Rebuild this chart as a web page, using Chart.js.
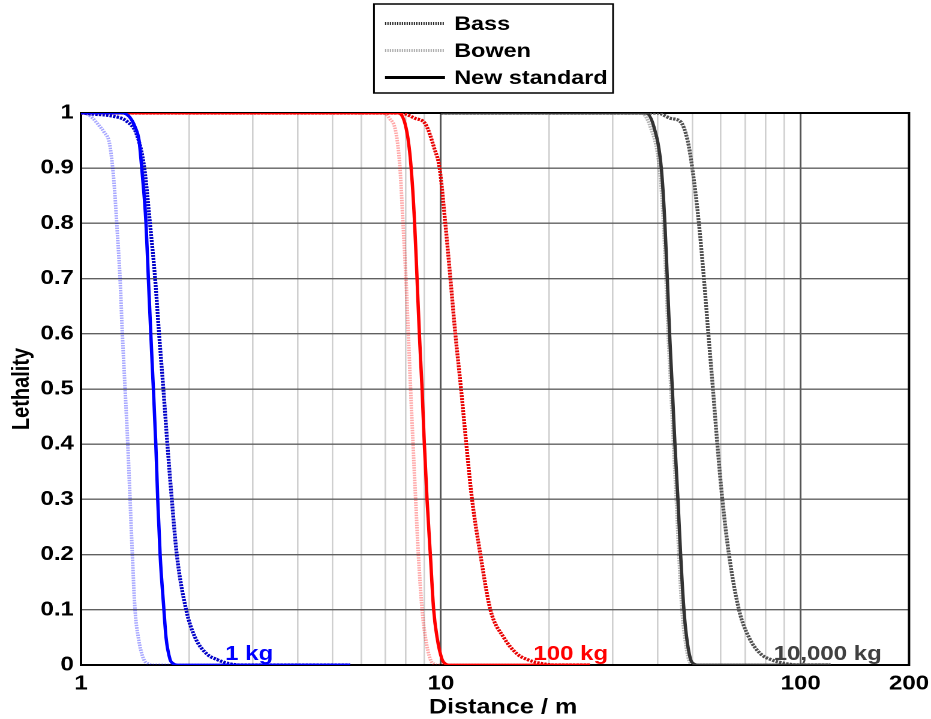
<!DOCTYPE html>
<html>
<head>
<meta charset="utf-8">
<script src="https://cdn.jsdelivr.net/npm/chart.js@4/dist/chart.umd.min.js"></script>
<style>
  html, body { margin: 0; padding: 0; background: #fff; overflow: hidden; }
  #wrap { position: absolute; left: 0; top: 0; width: 776px; height: 719px;
          transform: scaleX(1.19974); transform-origin: 0 0; }
</style>
</head>
<body>
<div id="wrap"><canvas id="c"></canvas></div>
<script>
// Lethality versus distance (log scale) for three charge masses and three criteria.
// Each curve is a list of [distance in m, lethality] points.

// 1 kg
const bass1kg = [[1,1],[1.08,0.998],[1.23,0.994],[1.34,0.985],[1.43,0.96],[1.50,0.90],[1.555,0.80],[1.607,0.70],
  [1.648,0.60],[1.694,0.50],[1.738,0.40],[1.788,0.30],[1.846,0.20],[1.96,0.10],[2.075,0.05],[2.237,0.02],
  [2.385,0.01],[2.6,0.002],[2.8,0],[5.6,0]];
const bowen1kg = [[1,1],[1.04,0.998],[1.08,0.99],[1.12,0.978],[1.16,0.965],[1.20,0.945],[1.225,0.90],[1.243,0.85],
  [1.257,0.80],[1.284,0.70],[1.303,0.60],[1.326,0.50],[1.349,0.40],[1.369,0.30],[1.389,0.20],[1.413,0.10],
  [1.443,0.05],[1.49,0.012],[1.54,0.002],[1.6,0],[5.6,0]];
const newStd1kg = [[1,1],[1.30,1],[1.354,0.995],[1.39,0.985],[1.413,0.975],[1.45,0.95],[1.475,0.90],[1.516,0.80],
  [1.539,0.70],[1.563,0.60],[1.589,0.50],[1.614,0.40],[1.634,0.30],[1.659,0.20],[1.70,0.10],[1.723,0.05],
  [1.768,0.01],[1.80,0.003],[1.85,0],[5.6,0]];

// 100 kg
const bass100kg = [[1,1],[7.7,1],[8.5,0.99],[9.06,0.98],[9.6,0.935],[9.92,0.90],[10.29,0.80],[10.63,0.70],
  [10.97,0.60],[11.38,0.50],[11.77,0.40],[12.21,0.30],[12.88,0.20],[13.73,0.10],[14.95,0.05],[16.29,0.02],
  [17.37,0.01],[19.3,0.002],[21,0],[26,0]];
const bowen100kg = [[1,1],[6.9,1],[7.2,0.99],[7.5,0.965],[7.70,0.90],[7.85,0.80],[8.0,0.70],[8.12,0.60],
  [8.24,0.50],[8.37,0.40],[8.51,0.30],[8.66,0.20],[8.87,0.10],[9.06,0.05],[9.35,0.01],[9.65,0.001],[9.8,0],[26,0]];
const newStd100kg = [[1,1],[7.6,1],[8.05,0.965],[8.27,0.90],[8.455,0.80],[8.587,0.70],[8.715,0.60],[8.867,0.50],
  [8.998,0.40],[9.154,0.30],[9.349,0.20],[9.55,0.10],[9.76,0.05],[10.08,0.01],[10.3,0.002],[10.5,0],[26,0]];

// 10,000 kg
const bass10000kg = [[10,1],[39.94,1],[43.6,0.99],[46.37,0.984],[48.5,0.95],[49.97,0.90],[52.13,0.80],[53.83,0.70],
  [55.38,0.60],[57.03,0.50],[58.66,0.40],[60.57,0.30],[63.19,0.20],[67.36,0.10],[71.8,0.05],[77.4,0.02],
  [82.52,0.01],[91.85,0.002],[100,0],[121,0]];
const bowen10000kg = [[10,1],[35.9,1],[38.2,0.975],[40.5,0.90],[41.55,0.80],[42.23,0.70],[42.82,0.60],[43.57,0.50],
  [44.30,0.40],[45.11,0.30],[45.86,0.20],[46.77,0.10],[47.64,0.05],[48.81,0.01],[50,0.001],[51,0],[121,0]];
const newStd10000kg = [[10,1],[37.06,1],[39.08,0.975],[40.98,0.90],[41.93,0.80],[42.58,0.70],[43.21,0.60],[43.97,0.50],
  [44.71,0.40],[45.58,0.30],[46.37,0.20],[47.36,0.10],[48.19,0.05],[49.43,0.01],[50.5,0.002],[51.6,0],[121,0]];

// Axis ticks
const xGridValues = [1,2,3,4,5,6,7,8,9,10,20,30,40,50,60,70,80,90,100,200];
const xTickLabels = {1:'1', 10:'10', 100:'100', 200:'200'};
const yTickLabels = ['0','0.1','0.2','0.3','0.4','0.5','0.6','0.7','0.8','0.9','1'];
const xTitle = 'Distance / m';

// Key entries and mass labels
const keyNames = ['Bass', 'Bowen', 'New standard'];
const massNames = ['1 kg', '100 kg', '10,000 kg'];
const massAnchors = [[2.515, 0.009], [18.08, 0.009], [84.1, 0.009]];

const FONT = '"Liberation Sans", Arial, sans-serif';
const toXY = arr => arr.map(p => ({x: p[0], y: p[1]}));

const styleFor = {
  bass:   {dash: [2, 1], width: 3.2, order: 1},
  bowen:  {dash: [1.5, 1], width: 3, order: 2},
  newStd: {dash: [],     width: 2.8, order: 0}
};
function series(label, data, kind, color) {
  const s = styleFor[kind];
  return {
    label, data: toXY(data), borderColor: color, borderWidth: s.width, borderDash: s.dash,
    pointRadius: 0, fill: false, cubicInterpolationMode: 'monotone', order: s.order
  };
}

const datasets = [
  series('New standard 1 kg', newStd1kg, 'newStd', '#0000ff'),
  series('Bass 1 kg', bass1kg, 'bass', '#0000c8'),
  series('Bowen 1 kg', bowen1kg, 'bowen', 'rgba(0,0,255,0.35)'),
  series('New standard 100 kg', newStd100kg, 'newStd', '#ff0000'),
  series('Bass 100 kg', bass100kg, 'bass', '#e80000'),
  series('Bowen 100 kg', bowen100kg, 'bowen', 'rgba(255,0,0,0.35)'),
  series('New standard 10,000 kg', newStd10000kg, 'newStd', '#333333'),
  series('Bass 10,000 kg', bass10000kg, 'bass', '#505050'),
  series('Bowen 10,000 kg', bowen10000kg, 'bowen', 'rgba(0,0,0,0.3)')
];

// Black frame around the plotting area
const framePlugin = {
  id: 'frame',
  beforeDatasetsDraw(chart) {
    const {ctx, chartArea: a} = chart;
    ctx.save();
    ctx.strokeStyle = '#000';
    ctx.lineWidth = 2;
    ctx.strokeRect(a.left, a.top, a.right - a.left, a.bottom - a.top);
    ctx.restore();
  }
};

// Mass labels next to each family of curves, and the distance axis title
const massColors = ['#0000ff', '#ff0000', '#404040'];
const massPlugin = {
  id: 'massLabels',
  afterDatasetsDraw(chart) {
    const {ctx, scales: {x, y}} = chart;
    ctx.save();
    ctx.font = 'bold 20px ' + FONT;
    ctx.textAlign = 'left';
    ctx.textBaseline = 'alphabetic';
    massNames.forEach((t, i) => {
      ctx.fillStyle = massColors[i];
      ctx.fillText(t, x.getPixelForValue(massAnchors[i][0]), y.getPixelForValue(massAnchors[i][1]));
    });
    ctx.font = 'bold 21px ' + FONT;
    ctx.fillStyle = '#000';
    ctx.textAlign = 'center';
    ctx.textBaseline = 'middle';
    ctx.fillText(xTitle, 419.3, 707.5);
    ctx.restore();
  }
};

// Key box above the plot
const keyStyles = [
  {color: '#222', dash: [1, 1], width: 3},
  {color: '#aaa', dash: [1, 1], width: 3},
  {color: '#000', dash: [], width: 3}
];
const keyPlugin = {
  id: 'key',
  afterDraw(chart) {
    const ctx = chart.ctx;
    const box = {x: 311.7, y: 4, w: 199.3, h: 89};
    ctx.save();
    ctx.fillStyle = '#fff';
    ctx.fillRect(box.x, box.y, box.w, box.h);
    ctx.strokeStyle = '#000';
    ctx.lineWidth = 1.5;
    ctx.strokeRect(box.x, box.y, box.w, box.h);
    ctx.font = 'bold 19.5px ' + FONT;
    ctx.textAlign = 'left';
    ctx.textBaseline = 'middle';
    keyNames.forEach((name, i) => {
      const yy = 23.5 + i * 27;
      const st = keyStyles[i];
      ctx.beginPath();
      ctx.setLineDash(st.dash);
      ctx.strokeStyle = st.color;
      ctx.lineWidth = st.width;
      ctx.moveTo(320.9, yy);
      ctx.lineTo(370.9, yy);
      ctx.stroke();
      ctx.setLineDash([]);
      ctx.fillStyle = '#000';
      ctx.fillText(name, 378.6, yy + 1);
    });
    ctx.restore();
  }
};

new Chart(document.getElementById('c'), {
  type: 'line',
  data: {datasets},
  plugins: [framePlugin, massPlugin, keyPlugin],
  options: {
    responsive: true,
    maintainAspectRatio: false,
    devicePixelRatio: 2,
    animation: false,
    layout: {padding: {top: 113, right: 18.3, bottom: 0, left: 0}},
    plugins: {legend: {display: false}, tooltip: {enabled: false}},
    scales: {
      x: {
        type: 'logarithmic',
        min: 1, max: 200,
        afterBuildTicks(scale) { scale.ticks = xGridValues.map(v => ({value: v})); },
        afterFit(scale) { scale.height = 54; scale.paddingLeft = 0; scale.paddingRight = 0; },
        ticks: {
          autoSkip: false, maxRotation: 0, padding: 7, color: '#000',
          font: {family: FONT, size: 20, weight: 'bold'},
          callback: v => xTickLabels[v] || ''
        },
        grid: {
          drawTicks: false,
          color: c => (c.tick && (c.tick.value === 10 || c.tick.value === 100)) ? '#555' : '#cfcfcf',
          lineWidth: c => (c.tick && (c.tick.value === 10 || c.tick.value === 100)) ? 1.5 : 1.3
        },
        border: {display: false},
        title: {display: false}
      },
      y: {
        min: 0, max: 1,
        afterFit(scale) { scale.width = 67.5; },
        ticks: {
          stepSize: 0.1, padding: 6, color: '#000',
          font: {family: FONT, size: 20, weight: 'bold'},
          callback: (v) => yTickLabels[Math.round(v * 10)]
        },
        grid: {drawTicks: false, color: '#606060', lineWidth: 1.4},
        border: {display: false},
        title: {display: true, text: 'Lethality', color: '#000',
                font: {family: FONT, size: 20, weight: 'bold'}, padding: {top: 6.3, bottom: 0}}
      }
    }
  }
});
</script>
</body>
</html>
